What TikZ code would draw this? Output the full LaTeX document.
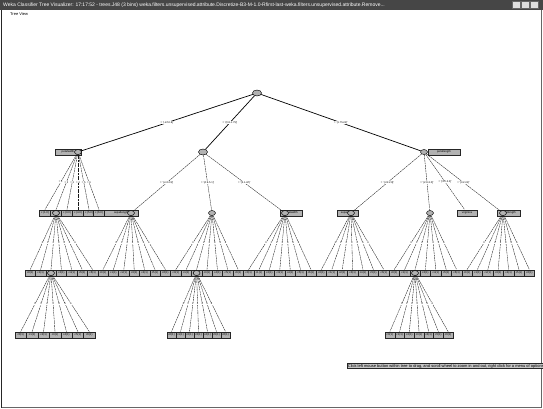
\documentclass[tikz,border=0pt]{standalone}
\usepackage{fontspec}
\setmainfont{Liberation Sans}
\usetikzlibrary{shapes.geometric}
\begin{document}
\begin{tikzpicture}[x=1pt,y=-1pt,
  innernode/.style={ellipse,draw=black,fill=gray!60,minimum width=7pt,minimum height=5pt,inner sep=0pt,line width=0.45pt},
  leafbox/.style={rectangle,draw=black!85,fill=gray!60,minimum height=6.5pt,inner sep=0.2pt,font=\fontsize{2.8}{3}\selectfont,line width=0.35pt},
  elab/.style={fill=white,inner sep=0.15pt,font=\fontsize{2.6}{3}\selectfont},
  edge/.style={draw=black!90,line width=0.35pt,dash pattern=on 2pt off 0.6pt},
  rootedge/.style={draw=black,line width=0.7pt},
  uitext/.style={inner sep=0pt,anchor=west}]
\useasboundingbox (0,0) rectangle (543,408);
% window
\fill[white] (0,0) rectangle (543,408);
\draw[black!85,line width=0.9pt] (1.5,9.5) -- (1.5,407.5);
\draw[black!60,line width=0.4pt] (1.5,407.5) -- (541.5,407.5) -- (541.5,9.5);
\fill[gray!55!black] (0,0) rectangle (543,9.5);
\begin{scope}
\clip (0,0) rectangle (508,9.5);
\node[uitext,text=white,font=\fontsize{5}{6}\selectfont] (title) at (3,4.8) {Weka Classifier Tree Visualizer: 17:17:52 - trees.J48 (3 bins) weka.filters.unsupervised.attribute.Discretize-B3-M-1.0-Rfirst-last-weka.filters.unsupervised.attribute.Remove...};
\end{scope}
\foreach \bx/\nm in {512/bmin,521/bmax,530/bclose}{
  \node[draw=black!60,fill=gray!25,minimum width=8pt,minimum height=6.5pt,inner sep=0pt] (\nm) at (\bx+4,4.8) {};
}
\node[uitext,font=\fontsize{4}{5}\selectfont] (tv) at (10,14.5) {Tree View};

% root
\node[innernode,minimum width=9pt,minimum height=6pt] (r) at (257,93) {};
% level 1
\node[leafbox,minimum width=26pt] (Abox) at (68,152) {petalwidth};
\node[innernode] (A) at (78,152) {};
\node[innernode,minimum width=9pt,minimum height=6pt] (B) at (203,152) {};
\node[leafbox,minimum width=32pt] (Cbox) at (444,152) {petallength};
\node[innernode] (C) at (424,152) {};
\draw[rootedge] (r) -- (A) node[elab,midway] {= '(-inf-0.8]'};
\draw[rootedge] (r) -- (B) node[elab,midway] {= '(0.8-1.75]'};
\draw[rootedge] (r) -- (C) node[elab,midway] {= '(1.75-inf)'};

% level 2, children of A
\foreach \xx/\j in {45/1,56/2,67/3,78/4,89/5,99/6}{
  \node[leafbox,minimum width=11pt] (a\j) at (\xx,213) {c (\j.0)};
  \draw[edge] (A) -- (a\j.north) node[elab,midway] {= \j};
}
\node[innernode] (N1) at (56,213) {};
% children of B
\node[leafbox,minimum width=33.5pt] (N2box) at (121.2,213) {sepallength};
\node[innernode] (N2) at (131,213) {};
\node[innernode] (N3) at (212,213) {};
\node[leafbox,minimum width=22pt] (N4box) at (291,213) {sepalwidth};
\node[innernode] (N4) at (285,213) {};
\draw[edge] (B) -- (N2) node[elab,midway] {= '(-inf-4.9]'};
\draw[edge] (B) -- (N3) node[elab,midway] {= '(4.9-5.1]'};
\draw[edge] (B) -- (N4) node[elab,midway] {= '(5.1-inf)'};
% children of C
\node[leafbox,minimum width=21pt] (N5box) at (347.5,213) {sepalwidth};
\node[innernode] (N5) at (351,213) {};
\node[innernode] (N6) at (430,213) {};
\node[leafbox,minimum width=20pt] (cleaf) at (467,213) {virginica};
\node[leafbox,minimum width=23pt] (N7box) at (508.5,213) {sepallength};
\node[innernode] (N7) at (503,213) {};
\draw[edge] (C) -- (N5) node[elab,midway] {= '(-inf-2.8]'};
\draw[edge] (C) -- (N6) node[elab,midway] {= '(2.8-3.0]'};
\draw[edge] (C) -- (cleaf) node[elab,midway] {= '(3.0-3.2]'};
\draw[edge] (C) -- (N7) node[elab,midway] {= '(3.2-inf)'};

% level 3
\foreach \k/\pp in {0/N1,1/N2,2/N3,3/N4,4/N5,5/N6,6/N7}{
  \foreach \j in {0,...,6}{
    \pgfmathsetmacro\xx{30.2+10.4*(7*\k+\j)}
    \node[leafbox,minimum width=10.4pt] (m\k\j) at (\xx,273) {c\j (1)};
    \draw[edge] (\pp) -- (m\k\j.north) node[elab,midway] {\j};
  }
}
\node[innernode] (I1) at (m02) {};
\node[innernode] (I2) at (m22) {};
\node[innernode] (I3) at (m52) {};

% level 4
\foreach \pp/\xs/\dx/\w/\nm in {I1/20.7/11.43/11.4/p,I2/171.5/9/9/q,I3/389.9/9.7/9.7/s}{
  \foreach \j in {0,...,6}{
    \pgfmathsetmacro\xx{\xs+\dx*\j}
    \node[leafbox,minimum width=\w pt] (\nm\j) at (\xx,335) {c\j (1)};
    \draw[edge] (\pp) -- (\nm\j.north) node[elab,midway] {\j};
  }
}

% status text
\begin{scope}
\clip (0,0) rectangle (543,408);
\node[uitext,draw=black!85,fill=gray!45,font=\fontsize{4}{5}\selectfont,inner sep=0.7pt] (status) at (347,366) {Click left mouse button within tree to drag, and scroll wheel to zoom in and out, right click for a menu of options};
\end{scope}
\end{tikzpicture}
\end{document}
